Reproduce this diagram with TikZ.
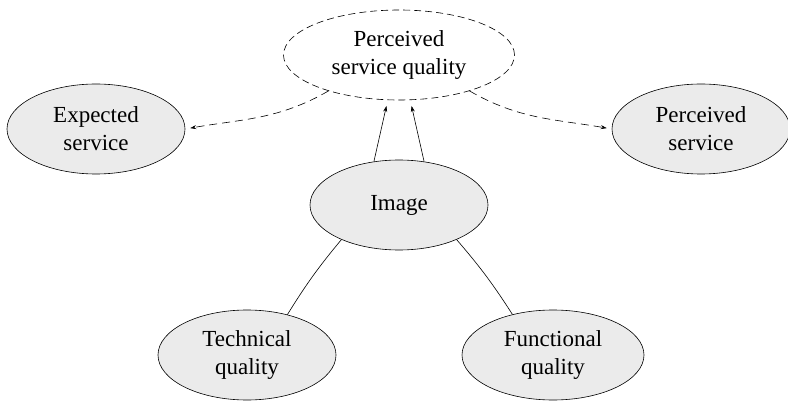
\documentclass[tikz,border=0pt]{standalone}
\usepackage{fontspec}
\setmainfont{Liberation Serif}
\usetikzlibrary{shapes.geometric,arrows.meta}
\definecolor{fillgray}{HTML}{EBEBEB}
\begin{document}
\begin{tikzpicture}[x=1pt,y=-1pt,
  ell/.style={ellipse, draw, fill=fillgray, minimum width=178pt, minimum height=90pt,
    inner sep=0pt, align=center, font=\fontsize{23}{28}\selectfont, line width=0.6pt},
  dashell/.style={ellipse, draw, dash pattern=on 7pt off 4pt, minimum width=231pt, minimum height=90pt,
    inner sep=0pt, align=center, font=\fontsize{23}{28}\selectfont, line width=0.6pt},
  arr/.style={-{Stealth[length=6pt,width=4pt]}, line width=0.6pt},
  darr/.style={arr, dash pattern=on 8pt off 5pt},
  conn/.style={line width=0.6pt}]
\useasboundingbox (0,0) rectangle (788,401);
\node[dashell] (psq) at (399,55) {Perceived\\service quality};
\node[ell] (exp) at (96,129) {Expected\\service};
\node[ell] (ps) at (701,129) {Perceived\\service};
\node[ell] (img) at (399,205) {Image};
\node[ell] (tech) at (247,355) {Technical\\quality};
\node[ell, minimum width=182pt] (func) at (553,355) {Functional\\quality};
\draw[arr, shorten >=6pt] (img.120) -- (psq.256);
\draw[arr, shorten >=6pt] (img.60) -- (psq.284);
\draw[darr, shorten >=5pt] (psq.207) to[out=210, in=10] (exp.east);
\draw[darr, shorten >=5pt] (psq.333) to[out=-30, in=170] (ps.west);
\draw[conn] (img.211) to[bend right=4] (tech.45);
\draw[conn] (img.329) to[bend left=4] (func.135);
\end{tikzpicture}
\end{document}
